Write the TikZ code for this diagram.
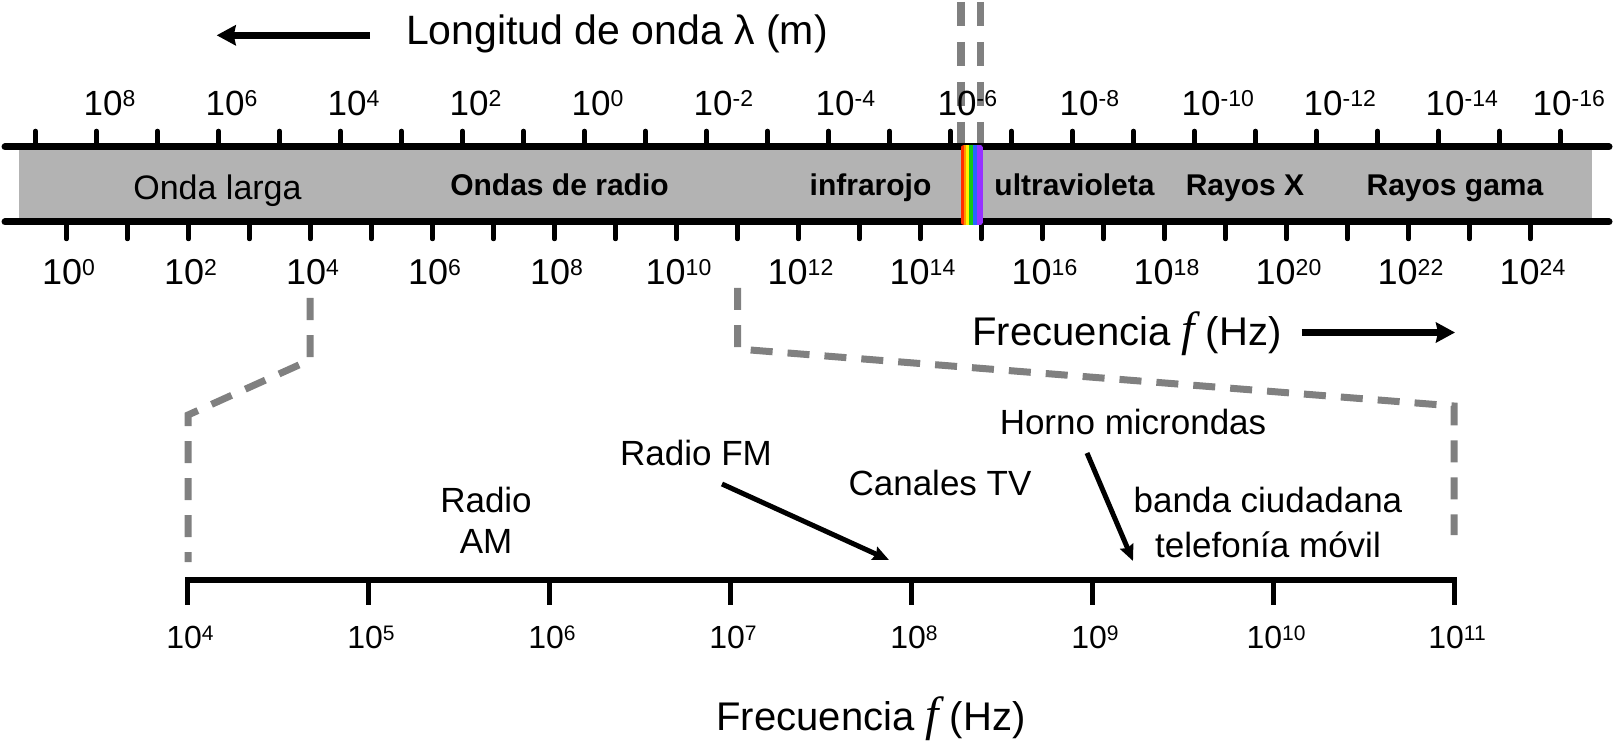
\documentclass[tikz,border=0pt]{standalone}
\usepackage{fontspec}
\setmainfont{Liberation Sans}
\newfontfamily\seriffam{Liberation Serif}
\usetikzlibrary{arrows.meta}
\definecolor{bargray}{RGB}{179,179,179}
\definecolor{dashgray}{RGB}{128,128,128}
\definecolor{rbred}{RGB}{255,45,0}
\definecolor{rborange}{RGB}{255,150,0}
\definecolor{rbyellow}{RGB}{255,240,0}
\definecolor{rbgreen}{RGB}{20,200,20}
\definecolor{rbblue}{RGB}{40,100,255}
\definecolor{rbviolet}{RGB}{150,50,255}
\newcommand{\pw}[1]{10\raisebox{9pt}{\fontsize{23}{23}\selectfont #1}}
\newcommand{\pwl}[1]{10\raisebox{8pt}{\fontsize{21}{21}\selectfont #1}}
\newcommand{\freqlab}{Frecuencia {\fontsize{48}{48}\selectfont\seriffam\itshape f} (Hz)}
\tikzset{
  toplab/.style={font=\fontsize{35}{35}\selectfont, inner sep=0pt, anchor=base west},
  botlab/.style={font=\fontsize{36}{36}\selectfont, inner sep=0pt, anchor=base},
  lowlab/.style={font=\fontsize{32}{32}\selectfont, inner sep=0pt, anchor=base},
  tickmark/.style={line width=4.5pt, line cap=round},
  axisline/.style={line width=7pt},
  bandbold/.style={font=\fontsize{30}{30}\selectfont\bfseries, inner sep=0pt, anchor=base},
  bandreg/.style={font=\fontsize{34}{34}\selectfont, inner sep=0pt, anchor=base},
  lowtxt/.style={font=\fontsize{35}{35}\selectfont, inner sep=0pt, anchor=base},
  bigtxt/.style={font=\fontsize{40}{40}\selectfont, inner sep=0pt, anchor=base},
  zoomdash/.style={dashgray, line width=7pt, dash pattern=on 22pt off 15pt},
  bigarrow/.style={line width=7pt, -{Stealth[length=19pt, width=20pt, inset=2pt]}},
  smallarrow/.style={line width=5pt, -{Stealth[length=16pt, width=14pt, inset=2pt]}},
}
\begin{document}
\begin{tikzpicture}[x=1pt,y=-1pt]
\useasboundingbox (0,0) rectangle (1614,751);

% title and arrow (wavelength)
\node[bigtxt, font=\fontsize{41}{41}\selectfont] (lambda) at (617,45) {Longitud de onda λ (m)};
\coordinate (la1) at (370,35.3);
\coordinate (la2) at (216.7,35.3);
\draw[bigarrow] (la1) -- (la2);

% grey band
\fill[bargray] (19,150) rectangle (1592,219);

% visible light dashed markers
\coordinate (v1a) at (961,2);
\coordinate (v1b) at (961,147);
\coordinate (v2a) at (980.5,2);
\coordinate (v2b) at (980.5,147);
\draw[dashgray, line width=7.5pt, dash pattern=on 24pt off 16pt] (v1a) -- (v1b);
\draw[dashgray, line width=7pt, dash pattern=on 24pt off 16pt] (v2a) -- (v2b);

% axis lines
\draw[axisline, line cap=round] (5,147) -- (1609,147);
\draw[axisline, line cap=round] (5,222) -- (1609,222);

% ticks
\foreach \i in {0,...,25} \draw[tickmark] ({35.5+61*\i},131) -- ({35.5+61*\i},147);
\foreach \j in {0,...,24} \draw[tickmark] ({66.5+61*\j},222) -- ({66.5+61*\j},239);

% top labels (wavelength)
\foreach \i/\e in {1/8,3/6,5/4,7/2,9/0,11/-2,13/-4,15/-6,17/-8,19/-10,21/-12,23/-14}
  \node[toplab] (wl\i) at ({35.5+61*\i-13},116) {\pw{\e}};
\node[toplab] (wl25) at ({35.5+61*25-28},116) {\pw{-16}};

% bottom labels (frequency)
\foreach \j/\e in {0/0,2/2,4/4,6/6,8/8,10/10,12/12,14/14,16/16,18/18,20/20,22/22,24/24}
  \node[botlab] (fq\j) at ({66.5+61*\j+2},284) {\pw{\e}};

% rainbow strip
\begin{scope}
  \clip[rounded corners=3pt] (960.7,145) rectangle (983.3,225);
  \fill[rbred] (960.7,145) rectangle (964,225);
  \fill[rborange] (964,145) rectangle (966,225);
  \fill[rbyellow] (966,145) rectangle (969.3,225);
  \fill[rbgreen] (969.3,145) rectangle (972.7,225);
  \fill[rbblue] (972.7,145) rectangle (976.7,225);
  \fill[rbviolet] (976.7,145) rectangle (983.3,225);
\end{scope}

% band names
\node[bandreg] (olarga) at (217.5,200) {Onda larga};
\node[bandbold] (radio) at (559.5,196) {Ondas de radio};
\node[bandbold] (ir) at (870.5,196) {infrarojo};
\node[bandbold] (uv) at (1074.5,196) {ultravioleta};
\node[bandbold] (rx) at (1245,196) {Rayos X};
\node[bandbold] (rg) at (1455,196) {Rayos gama};

% frequency arrow (upper)
\node[bigtxt] (fup) at (1127,345) {\freqlab};
\coordinate (fa1) at (1301.7,332.5);
\coordinate (fa2) at (1455,332.5);
\draw[bigarrow] (fa1) -- (fa2);

% zoom dashed outlines
\coordinate (l1) at (310,298);
\coordinate (l2) at (310,360);
\coordinate (l3) at (188,415);
\coordinate (l4) at (188,562);
\draw[zoomdash] (l1) -- (l2) -- (l3) -- (l4);
\coordinate (r1) at (737.7,288);
\coordinate (r2) at (737.7,349);
\coordinate (r3) at (1454,406);
\coordinate (r4) at (1454,535);
\draw[zoomdash] (r1) -- (r2) -- (r3) -- (r4);

% lower axis
\draw[line width=6.5pt] (187,580) -- (1454,580);
\foreach \k in {0,...,7} \draw[line width=5pt] ({187+181*\k},577) -- ({187+181*\k},605);
\foreach \k in {0,...,7} {
  \pgfmathtruncatemacro{\ex}{4+\k}
  \node[lowlab] (lz\k) at ({187+181*\k+3},648) {\pwl{\ex}};
}

% lower labels
\node[lowtxt] (am1) at (486,512) {Radio};
\node[lowtxt] (am2) at (486,553) {AM};
\node[lowtxt] (fm) at (696,465) {Radio FM};
\node[lowtxt] (tv) at (940,495) {Canales TV};
\node[lowtxt] (mw) at (1133,434) {Horno microndas};
\node[lowtxt] (cb) at (1268,512) {banda ciudadana};
\node[lowtxt] (mob) at (1268,557) {telefonía móvil};
\node[bigtxt] (fdown) at (871,730) {\freqlab};

% pointer arrows
\coordinate (fmA) at (722,484);
\coordinate (fmB) at (889,560);
\draw[smallarrow] (fmA) -- (fmB);
\coordinate (mwA) at (1087,453);
\coordinate (mwB) at (1133,561);
\draw[smallarrow] (mwA) -- (mwB);
\end{tikzpicture}
\end{document}
